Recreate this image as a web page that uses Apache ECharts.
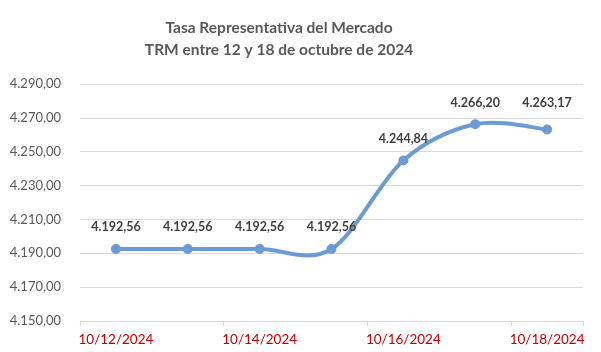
<!DOCTYPE html>
<html>
<head>
<meta charset="utf-8">
<script src="https://cdn.jsdelivr.net/npm/echarts@6/dist/echarts.min.js"></script>
<style>html,body{margin:0;padding:0;background:#fff;}#c{width:601px;height:352px;}</style>
</head>
<body>
<div id="c"></div>
<script>
var categories = ['10/12/2024','10/13/2024','10/14/2024','10/15/2024','10/16/2024','10/17/2024','10/18/2024'];
var trmValues = [4192.56, 4192.56, 4192.56, 4192.56, 4244.84, 4266.20, 4263.17];
var titleLines = ['Tasa Representativa del Mercado', 'TRM entre 12 y 18 de octubre de 2024'];
var yMin = 4150, yMax = 4290, yStep = 20;

function fmt(v){
  var s = v.toFixed(2);
  var parts = s.split('.');
  var intPart = parts[0].replace(/\B(?=(\d{3})+(?!\d))/g, '.');
  return intPart + ',' + parts[1];
}

var FONT = 'Lato, "Open Sans", sans-serif';
var LINE_COLOR = '#6A9BD5';
var chart = echarts.init(document.getElementById('c'));
var seriesData = trmValues.map(function(v, i){
  var d = {value: v};
  if (i === trmValues.length - 1) { d.label = {distance: 15}; }
  return d;
});

// Smooth curve (Catmull-Rom style, like spreadsheet smoothing) drawn through axis coordinates
function renderCurve(params, api){
  if (params.dataIndex !== 0) return null;
  var pts = trmValues.map(function(v, i){ return api.coord([i, v]); });
  var n = pts.length;
  var d = 'M' + pts[0][0] + ' ' + pts[0][1];
  for (var i = 0; i < n - 1; i++) {
    var p0 = pts[Math.max(i - 1, 0)], p1 = pts[i], p2 = pts[i + 1], p3 = pts[Math.min(i + 2, n - 1)];
    var c1x = p1[0] + (p2[0] - p0[0]) / 6, c1y = p1[1] + (p2[1] - p0[1]) / 6;
    var c2x = p2[0] - (p3[0] - p1[0]) / 6, c2y = p2[1] - (p3[1] - p1[1]) / 6;
    d += ' C' + c1x + ' ' + c1y + ' ' + c2x + ' ' + c2y + ' ' + p2[0] + ' ' + p2[1];
  }
  return {
    type: 'path',
    shape: {pathData: d},
    style: {stroke: LINE_COLOR, lineWidth: 4, fill: null, lineCap: 'round', lineJoin: 'round'}
  };
}

chart.setOption({
  animation: false,
  backgroundColor: '#ffffff',
  title: {
    text: titleLines.join('\n'),
    left: 274,
    top: 12,
    textAlign: 'center',
    textStyle: {fontFamily: FONT, fontSize: 15.5, fontWeight: 'bold', color: '#595959', lineHeight: 22}
  },
  grid: {left: 80, right: 18, top: 84, bottom: 31, containLabel: false},
  xAxis: {
    type: 'category',
    data: categories,
    boundaryGap: true,
    axisLine: {show: true, lineStyle: {color: '#d9d9d9', width: 1}},
    axisTick: {show: true, interval: 1, alignWithLabel: false, length: 5, lineStyle: {color: '#d9d9d9'}},
    axisLabel: {interval: 1, margin: 12, fontFamily: FONT, fontSize: 13.5, color: '#C00000'},
    splitLine: {show: false}
  },
  yAxis: {
    type: 'value',
    min: yMin, max: yMax, interval: yStep,
    axisLine: {show: false},
    axisTick: {show: false},
    axisLabel: {margin: 19, fontFamily: FONT, fontSize: 13, color: '#595959', formatter: function(v){ return fmt(v); }},
    splitLine: {show: true, lineStyle: {color: '#d9d9d9', width: 1}}
  },
  series: [{
    type: 'custom',
    data: trmValues.map(function(v, i){ return [i, v]; }),
    encode: {x: 0, y: 1},
    renderItem: renderCurve,
    silent: true,
    z: 2
  }, {
    type: 'line',
    data: seriesData,
    symbol: 'circle',
    symbolSize: 10,
    lineStyle: {width: 0, opacity: 0},
    itemStyle: {color: LINE_COLOR},
    z: 3,
    label: {
      show: true, position: 'top', distance: 10,
      fontFamily: FONT, fontSize: 12.5, fontWeight: 'bold', color: '#404040',
      formatter: function(p){ return fmt(p.value); }
    }
  }]
});
</script>
</body>
</html>
